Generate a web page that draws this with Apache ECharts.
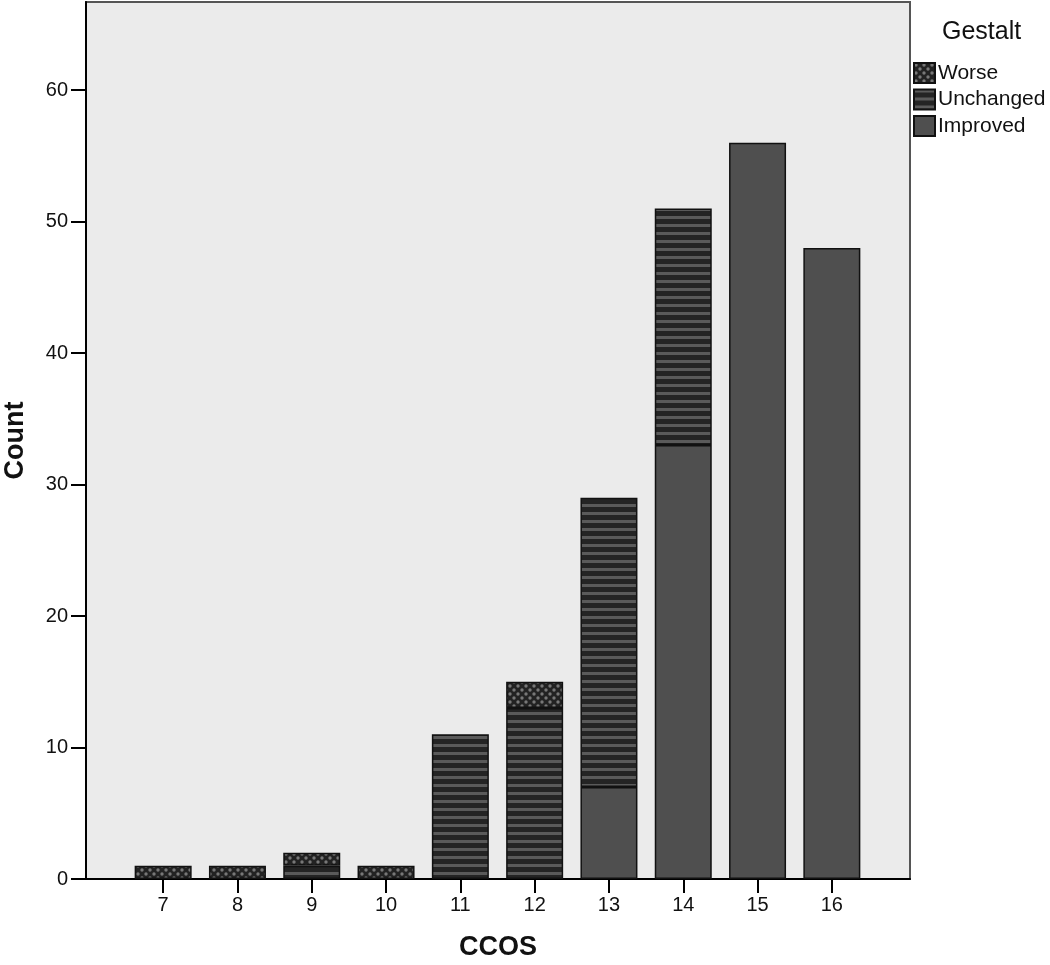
<!DOCTYPE html>
<html>
<head>
<meta charset="utf-8">
<script src="https://cdn.jsdelivr.net/npm/echarts@6/dist/echarts.min.js"></script>
<style>
  html, body { margin: 0; padding: 0; background: #fff; }
  #chart { width: 1050px; height: 965px; }
</style>
</head>
<body>
<div id="chart"></div>
<script>
const ccos = ["7", "8", "9", "10", "11", "12", "13", "14", "15", "16"];
const improved = [null, null, null, null, null, null, 7, 33, 56, 48];
const unchanged = [null, null, 1, null, 11, 13, 22, 18, null, null];
const worse = [1, 1, 1, 1, null, 2, null, null, null, null];
const yTicks = [0, 10, 20, 30, 40, 50, 60];

// fill patterns
function makePattern(w, h, draw) {
  const c = document.createElement("canvas");
  c.width = w;
  c.height = h;
  draw(c.getContext("2d"));
  return { image: c, repeat: "repeat" };
}
const stripe = makePattern(8, 8, (ctx) => {
  ctx.fillStyle = "#242424";
  ctx.fillRect(0, 0, 8, 8);
  ctx.fillStyle = "#5a5a5a";
  ctx.fillRect(0, 0, 8, 3);
});
const dots = makePattern(8, 8, (ctx) => {
  ctx.fillStyle = "#222";
  ctx.fillRect(0, 0, 8, 8);
  ctx.fillStyle = "#777";
  ctx.beginPath();
  ctx.arc(2, 2, 1.7, 0, Math.PI * 2);
  ctx.fill();
  ctx.beginPath();
  ctx.arc(6, 6, 1.7, 0, Math.PI * 2);
  ctx.fill();
});

const chart = echarts.init(document.getElementById("chart"), null, { renderer: "canvas" });
const font = "'Liberation Sans', Arial, sans-serif";
const yMax = 66.7;

function barSeries(name, values, color) {
  return {
    name: name,
    type: "bar",
    stack: "total",
    xAxisIndex: 0,
    yAxisIndex: 0,
    data: values.map((v) => (v == null ? "-" : v)),
    barWidth: 57,
    z: 3,
    itemStyle: { color: color, borderColor: "#111", borderWidth: 1.5 },
    emphasis: { disabled: true },
  };
}

chart.setOption({
  animation: false,
  textStyle: { fontFamily: font },
  title: {
    text: "Gestalt",
    left: 942,
    top: 20,
    padding: 0,
    textStyle: { fontSize: 25, fontWeight: "normal", color: "#111", fontFamily: font },
  },
  legend: {
    orient: "vertical",
    left: 913,
    top: 62,
    padding: 0,
    itemWidth: 21,
    itemHeight: 20,
    itemGap: 4.5,
    icon: "rect",
    data: ["Worse", "Unchanged", "Improved"],
    textStyle: { fontSize: 21, color: "#111", padding: [0, 0, 0, -2], fontFamily: font },
  },
  grid: [
    // bars: the category bands sit inset within the plot frame
    { left: 126, right: 181, top: 2, bottom: 86, outerBoundsMode: "none", containLabel: false },
    // plot frame + value axis
    {
      left: 86,
      right: 140,
      top: 2,
      bottom: 86,
      outerBoundsMode: "none",
      containLabel: false,
      show: true,
      backgroundColor: "#ebebeb",
      borderColor: "#555",
      borderWidth: 2,
      z: 0,
    },
  ],
  xAxis: [
    {
      type: "category",
      gridIndex: 0,
      data: ccos,
      axisLine: { show: false },
      axisTick: { show: true, alignWithLabel: true, length: 14, lineStyle: { color: "#000", width: 2 } },
      axisLabel: { fontSize: 20, color: "#111", margin: 16 },
      splitLine: { show: false },
    },
    {
      type: "value",
      gridIndex: 1,
      min: 0,
      max: 1,
      name: "CCOS",
      nameLocation: "middle",
      nameGap: 55,
      nameTextStyle: { fontSize: 27, fontWeight: "bold", color: "#111", fontFamily: font },
      axisLine: { show: true, lineStyle: { color: "#000", width: 2 } },
      axisTick: { show: false },
      axisLabel: { show: false },
      splitLine: { show: false },
    },
  ],
  yAxis: [
    {
      type: "value",
      gridIndex: 0,
      min: 0,
      max: yMax,
      show: false,
    },
    {
      type: "value",
      gridIndex: 1,
      min: 0,
      max: yMax,
      name: "Count",
      nameLocation: "middle",
      nameGap: 57,
      nameTextStyle: { fontSize: 27, fontWeight: "bold", color: "#111", fontFamily: font },
      splitLine: { show: false },
      axisLine: { show: true, lineStyle: { color: "#000", width: 2 } },
      axisTick: { show: true, length: 15, customValues: yTicks, lineStyle: { color: "#000", width: 2 } },
      axisLabel: { customValues: yTicks, fontSize: 20, color: "#111", margin: 18 },
    },
  ],
  series: [
    barSeries("Improved", improved, "#4f4f4f"),
    barSeries("Unchanged", unchanged, stripe),
    barSeries("Worse", worse, dots),
  ],
});
</script>
</body>
</html>
